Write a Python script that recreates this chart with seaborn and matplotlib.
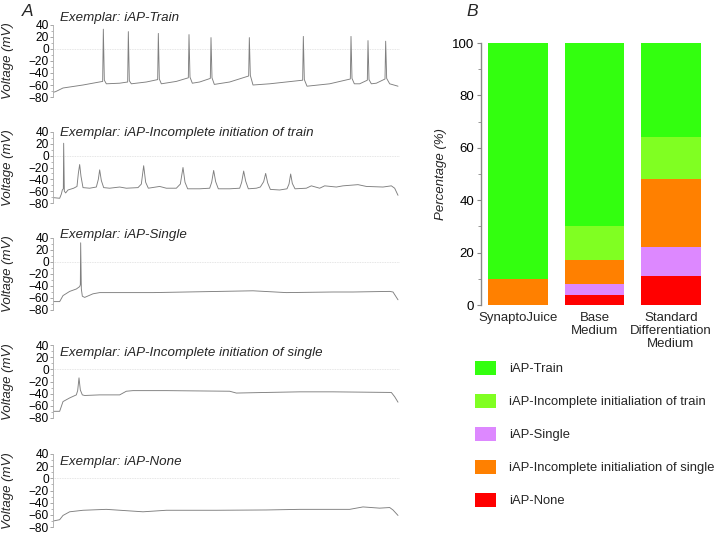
import numpy as np
import pandas as pd
import seaborn as sns
from matplotlib import pyplot as plt
from matplotlib.patches import Patch
from matplotlib.ticker import MultipleLocator

# ---- panel A: exemplar voltage traces (keypoints) ----
train_t = [2, 8, 30, 90, 149, 151, 154, 160, 200, 224, 226, 229, 235, 280, 314, 316, 319, 325, 370, 406, 408,
           411, 418, 440, 472, 474, 477, 484, 530, 587, 589, 592, 600, 650, 749, 751, 754, 762, 830, 892, 894,
           897, 904, 920, 943, 945, 948, 955, 970, 996, 998, 1001, 1010, 1035]
train_v = [-72, -71, -65, -60, -54, 33, -52, -58, -57, -55, 29, -53, -58, -55, -51, 26, -50, -58, -54, -48, 24,
           -47, -57, -55, -49, 19, -48, -59, -55, -45, 19, -44, -60, -58, -52, 21, -51, -62, -58, -50, 21,
           -49, -58, -58, -52, 14, -51, -58, -57, -50, 13, -49, -58, -62]

inc_train_t = [2, 20, 25, 28, 31, 32, 34, 38, 45, 62, 72, 76, 80, 84, 90, 110, 130, 136, 140, 145, 152, 170,
               200, 220, 255, 265, 272, 278, 286, 320, 340, 370, 382, 390, 396, 404, 440, 470, 476, 482, 488,
               496, 530, 560, 566, 572, 578, 586, 610, 622, 632, 638, 644, 652, 680, 702, 708, 713, 718, 726,
               760, 775, 800, 815, 850, 870, 915, 940, 990, 1015, 1025, 1035]
inc_train_v = [-71, -72, -65, -58, -56, 21, -60, -63, -58, -55, -52, -30, -15, -35, -54, -55, -53, -40, -24,
               -42, -54, -55, -53, -55, -54, -48, -17, -45, -55, -52, -55, -55, -48, -20, -45, -56, -56, -55,
               -45, -25, -44, -56, -56, -55, -45, -26, -43, -56, -55, -53, -44, -30, -46, -57, -58, -56, -48,
               -31, -47, -56, -55, -51, -55, -51, -53, -51, -49, -52, -53, -51, -55, -67]

single_t = [2, 20, 30, 50, 70, 80, 82, 83, 85, 88, 95, 120, 140, 300, 400, 600, 700, 840, 900, 1010, 1020, 1035]
single_v = [-66, -66, -56, -49, -45, -41, -38, 32, -45, -57, -59, -53, -51, -51, -50, -48, -51, -50, -50, -49,
            -50, -63]

inc_single_t = [2, 20, 30, 50, 70, 74, 78, 82, 88, 95, 140, 200, 220, 240, 340, 530, 550, 640, 740, 840, 1015,
                1025, 1035]
inc_single_v = [-69, -69, -53, -47, -42, -35, -14, -34, -42, -43, -42, -42, -36, -35, -35, -36, -39, -38, -37,
                -37, -38, -45, -54]

none_t = [2, 20, 30, 50, 90, 160, 270, 340, 490, 640, 740, 890, 930, 980, 1010, 1020, 1035]
none_v = [-70, -68, -61, -55, -52.5, -51, -55, -52.5, -52.5, -52, -51, -51, -47, -49, -48, -52, -61]

trace_titles = ["Exemplar: iAP-Train", "Exemplar: iAP-Incomplete initiation of train",
                "Exemplar: iAP-Single", "Exemplar: iAP-Incomplete initiation of single",
                "Exemplar: iAP-None"]

# ---- panel B: stacked percentages ----
media = ["SynaptoJuice", "Base\nMedium", "Standard\nDifferentiation\nMedium"]
pct_none = [0, 4, 11]
pct_single = [0, 4, 11]
pct_inc_single = [10, 9, 26]
pct_inc_train = [0, 13, 16]
pct_train = [90, 70, 36]

classes = ["iAP-Train", "iAP-Incomplete initialiation of train", "iAP-Single",
           "iAP-Incomplete initialiation of single", "iAP-None"]
class_colors = {"iAP-Train": "#33ff0f", "iAP-Incomplete initialiation of train": "#80ff22",
                "iAP-Single": "#dd88ff", "iAP-Incomplete initialiation of single": "#ff8000",
                "iAP-None": "#ff0000"}

sns.set_style("ticks")
plt.rcParams['font.family'] = ['Liberation Sans', 'DejaVu Sans']
plt.rcParams['axes.unicode_minus'] = True

fig = plt.figure(figsize=(7.2, 5.35), dpi=100)
W, H = 720.0, 535.0

traces = [(train_t, train_v), (inc_train_t, inc_train_v), (single_t, single_v),
          (inc_single_t, inc_single_v), (none_t, none_v)]
panel_px = [(25, 97), (132, 203), (238, 310), (345, 418), (454, 527)]
title_y = [1.10, 0.99, 1.04, 0.89, 0.89]

for (t, v), (top, bot), title, ty in zip(traces, panel_px, trace_titles, title_y):
    ax = fig.add_axes([53 / W, (H - bot) / H, 347 / W, (bot - top) / H])
    ax.axhline(0, color='#dddddd', lw=0.6, ls=(0, (1, 1)), zorder=0)
    sns.lineplot(x=t, y=v, ax=ax, color='#7f7f7f', linewidth=0.65, estimator=None)
    ax.set_xlim(0, 1041)
    ax.set_ylim(-80, 40)
    ax.yaxis.set_major_locator(MultipleLocator(20))
    ax.yaxis.set_minor_locator(MultipleLocator(10))
    ax.tick_params(axis='y', which='major', length=2, width=0.6, pad=1, labelsize=8.6, colors='#999999',
                   labelcolor='black')
    ax.tick_params(axis='y', which='minor', length=1.5, width=0.5, colors='#999999')
    ax.get_xaxis().set_visible(False)
    for s in ['top', 'right', 'bottom']:
        ax.spines[s].set_visible(False)
    ax.spines['left'].set_color('#aaaaaa')
    ax.spines['left'].set_linewidth(0.6)
    ax.set_ylabel('Voltage (mV)', fontsize=9.5, style='italic')
    ax.yaxis.set_label_coords(-0.112, 0.5)
    ax.text(0.02, ty, title, transform=ax.transAxes, fontsize=9.6, style='italic', va='center', ha='left')

# stacked bars, drawn as cumulative totals from the top layer down
axb = fig.add_axes([481 / W, (H - 305) / H, 229 / W, 262 / H])
stack = [("iAP-None", pct_none), ("iAP-Single", pct_single),
         ("iAP-Incomplete initialiation of single", pct_inc_single),
         ("iAP-Incomplete initialiation of train", pct_inc_train), ("iAP-Train", pct_train)]
for k in range(len(stack), 0, -1):
    cum = np.sum([vals for _, vals in stack[:k]], axis=0)
    sns.barplot(x=media, y=cum, color=class_colors[stack[k - 1][0]], saturation=1, width=0.78, ax=axb,
                edgecolor='none')
axb.set_xlim(-0.484, 2.51)
axb.set_ylim(0, 100)
axb.yaxis.set_major_locator(MultipleLocator(20))
axb.yaxis.set_minor_locator(MultipleLocator(10))
axb.tick_params(axis='y', which='major', length=3, width=0.8, pad=2, labelsize=9.5, colors='#888888',
                labelcolor='black')
axb.tick_params(axis='y', which='minor', length=2, width=0.6, colors='#888888')
axb.tick_params(axis='x', length=0, pad=5, labelsize=9.5)
for lbl in axb.get_xticklabels():
    lbl.set_linespacing(1.1)
for s in ['top', 'right', 'bottom']:
    axb.spines[s].set_visible(False)
axb.spines['left'].set_color('#888888')
axb.spines['left'].set_linewidth(1.0)
axb.set_ylabel('Percentage (%)', fontsize=9.5, style='italic')
axb.yaxis.set_label_coords(-0.148, 0.5)
axb.set_xlabel('')

handles = [Patch(facecolor=class_colors[c], edgecolor='none') for c in classes]
fig.legend(handles, classes, loc='upper left', bbox_to_anchor=(463 / W, 1 - 349 / H), frameon=False,
           fontsize=9.4, handlelength=1.6, handleheight=1.3, handletextpad=1.0, labelspacing=1.42)

fig.text(22 / W, 1 - 11 / H, 'A', fontsize=12.5, style='italic', va='center', ha='left')
fig.text(466 / W, 1 - 11 / H, 'B', fontsize=12.5, style='italic', va='center', ha='left')

plt.savefig('out.png', dpi=100)
